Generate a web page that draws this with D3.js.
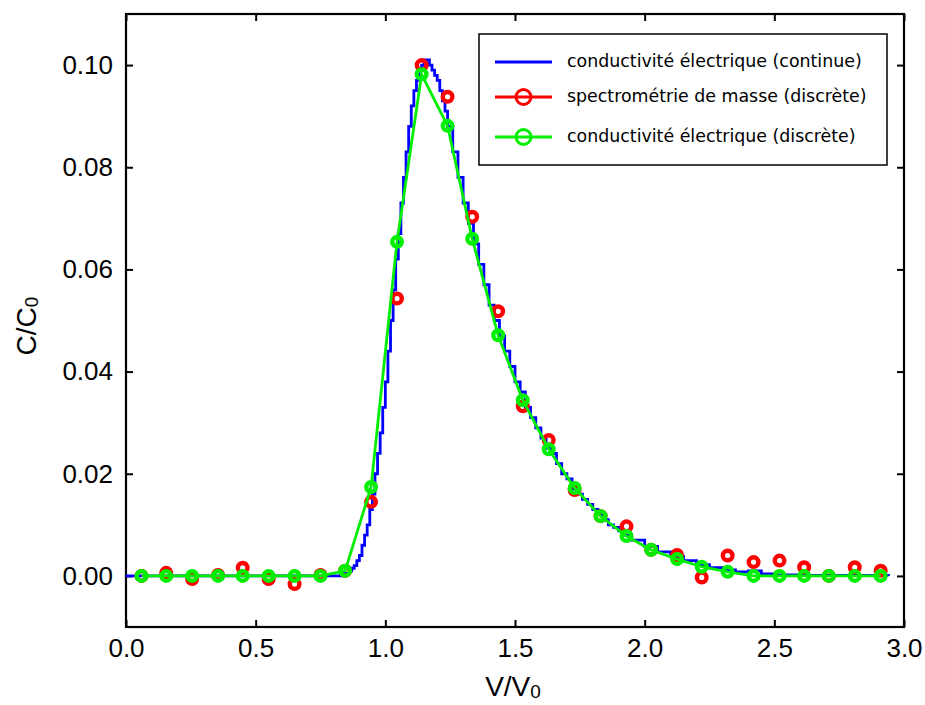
<!DOCTYPE html>
<html><head><meta charset="utf-8">
<script src="https://cdn.jsdelivr.net/npm/d3@7"></script>
<style>body{margin:0;background:#fff}svg{display:block}</style>
</head><body>
<svg id="chart" width="925" height="705"></svg>
<script>
// Discrete sample positions (V/V0)
const discreteV = [0.06,0.155,0.255,0.355,0.45,0.55,0.65,0.75,0.845,0.945,1.045,1.14,1.24,1.335,1.435,1.53,1.63,1.73,1.83,1.93,2.025,2.125,2.22,2.32,2.42,2.52,2.615,2.71,2.81,2.91];
// Mass spectrometry (discrete)
const massC = [0.0,0.0006,-0.0006,0.0002,0.0016,-0.0006,-0.0016,0.0002,0.001,0.0145,0.0543,0.1000,0.0938,0.0703,0.0518,0.0332,0.0266,0.0168,0.0117,0.0097,0.0051,0.0041,-0.0003,0.0040,0.0027,0.0030,0.0017,0.0,0.0017,0.0010];
// Electrical conductivity (discrete)
const condC = [0,0,0,0,0,0,0,0,0.001,0.0174,0.0654,0.0982,0.0881,0.0660,0.0471,0.0344,0.0248,0.0172,0.0117,0.0078,0.0051,0.0033,0.0018,0.0008,0,0,0,0,0,0];
// Electrical conductivity (continuous)
const contV = [0.00,0.80,0.84,0.86,0.87,0.88,0.89,0.90,0.91,0.92,0.93,0.94,0.95,0.96,0.97,0.98,0.99,1.00,1.01,1.02,1.03,1.04,1.05,1.06,1.07,1.08,1.09,1.10,1.11,1.12,1.13,1.14,1.15,1.16,1.17,1.18,1.19,1.20,1.21,1.22,1.23,1.24,1.26,1.28,1.30,1.32,1.34,1.36,1.38,1.40,1.42,1.44,1.46,1.48,1.50,1.52,1.54,1.56,1.58,1.60,1.62,1.64,1.66,1.68,1.70,1.72,1.74,1.76,1.78,1.80,1.82,1.84,1.86,1.88,1.90,1.92,1.95,2.00,2.05,2.10,2.15,2.20,2.25,2.30,2.35,2.40,2.45,2.50,2.60,2.94];
const contC = [0,0,0.0005,0.001,0.0015,0.002,0.003,0.004,0.006,0.008,0.010,0.013,0.016,0.020,0.024,0.028,0.033,0.038,0.044,0.050,0.056,0.062,0.067,0.073,0.078,0.083,0.088,0.092,0.095,0.097,0.099,0.100,0.101,0.101,0.100,0.099,0.098,0.097,0.095,0.093,0.091,0.088,0.083,0.078,0.073,0.069,0.065,0.061,0.057,0.053,0.050,0.047,0.044,0.041,0.038,0.036,0.033,0.031,0.029,0.027,0.025,0.024,0.022,0.020,0.019,0.017,0.016,0.015,0.014,0.013,0.012,0.011,0.010,0.0095,0.0088,0.0080,0.0070,0.0058,0.0047,0.0038,0.0030,0.0022,0.0016,0.0012,0.0008,0.0010,0.0004,0.0002,0.0001,0];
const xTicks = [0,0.5,1.0,1.5,2.0,2.5,3.0];
const yTicks = [0,0.02,0.04,0.06,0.08,0.10];
const legendLabels = ["conductivité électrique (continue)","spectrométrie de masse (discrète)","conductivité électrique (discrète)"];
const colors = ["#0000ff","#ff0000","#00ee00"];

const svg = d3.select("#chart");
const L=126,R=904,T=14,B=627;
const x = d3.scaleLinear().domain([0,3]).range([L,R]);
const y = d3.scaleLinear().domain([-0.01,0.11]).range([B,T]);
const font = "'Liberation Sans', Arial, sans-serif";

// axes with inward ticks
const gB = svg.append("g").attr("transform",`translate(0,${B})`)
  .call(d3.axisBottom(x).tickValues(xTicks).tickSizeInner(-7).tickSizeOuter(0).tickPadding(12).tickFormat(d3.format(".1f")));
const gL = svg.append("g").attr("transform",`translate(${L},0)`)
  .call(d3.axisLeft(y).tickValues(yTicks).tickSizeInner(-7).tickSizeOuter(0).tickPadding(13).tickFormat(d3.format(".2f")));
const gT = svg.append("g").attr("transform",`translate(0,${T})`)
  .call(d3.axisTop(x).tickValues(xTicks).tickSizeInner(-7).tickSizeOuter(0).tickFormat(""));
const gR = svg.append("g").attr("transform",`translate(${R},0)`)
  .call(d3.axisRight(y).tickValues(yTicks).tickSizeInner(-7).tickSizeOuter(0).tickFormat(""));
[gB,gL,gT,gR].forEach(g=>{
  g.select(".domain").remove();
  g.selectAll(".tick line").attr("stroke","#000").attr("stroke-width",2);
  g.selectAll(".tick text").attr("font-family",font).attr("font-size",26).attr("fill","#000");
});
svg.append("rect").attr("x",L).attr("y",T).attr("width",R-L).attr("height",B-T)
  .attr("fill","none").attr("stroke","#000").attr("stroke-width",2.2);

// axis titles
const xt = svg.append("text").attr("x",513).attr("y",696).attr("text-anchor","middle")
  .attr("font-family",font).attr("font-size",28);
xt.append("tspan").text("V/V");
xt.append("tspan").attr("font-size",19).attr("dy",2).text("0");
const yt = svg.append("text").attr("transform",`translate(36,326) rotate(-90)`).attr("text-anchor","middle")
  .attr("font-family",font).attr("font-size",28);
yt.append("tspan").text("C/C");
yt.append("tspan").attr("font-size",19).attr("dy",2).text("0");

// continuous line
const cont = contV.map((v,i)=>[v,contC[i]]);
svg.append("path").datum(cont).attr("fill","none").attr("stroke",colors[0]).attr("stroke-width",2.8)
  .attr("d",d3.line().x(d=>x(d[0])).y(d=>y(d[1])).curve(d3.curveStepAfter));

// mass spec markers
svg.append("g").selectAll("circle").data(discreteV.map((v,i)=>[v,massC[i]])).join("circle")
  .attr("cx",d=>x(d[0])).attr("cy",d=>y(d[1])).attr("r",4.8)
  .attr("fill","none").attr("stroke",colors[1]).attr("stroke-width",4.4);

// conductivity discrete
const cd = discreteV.map((v,i)=>[v,condC[i]]);
svg.append("path").datum(cd).attr("fill","none").attr("stroke",colors[2]).attr("stroke-width",2.8)
  .attr("d",d3.line().x(d=>x(d[0])).y(d=>y(d[1])));
svg.append("g").selectAll("circle").data(cd).join("circle")
  .attr("cx",d=>x(d[0])).attr("cy",d=>y(d[1])).attr("r",4.8)
  .attr("fill","none").attr("stroke",colors[2]).attr("stroke-width",4.4);

// legend
const lg = svg.append("g");
lg.append("rect").attr("x",479).attr("y",34).attr("width",408).attr("height",131)
  .attr("fill","#fff").attr("stroke","#000").attr("stroke-width",1.5);
const rowY=[62,97,137];
legendLabels.forEach((t,i)=>{
  lg.append("line").attr("x1",495).attr("x2",552).attr("y1",rowY[i]).attr("y2",rowY[i])
    .attr("stroke",colors[i]).attr("stroke-width",3);
  if(i>0) lg.append("circle").attr("cx",523.5).attr("cy",rowY[i]).attr("r",7.5)
    .attr("fill","none").attr("stroke",colors[i]).attr("stroke-width",3);
  lg.append("text").attr("x",567).attr("y",rowY[i]+5).attr("font-family","'DejaVu Sans', sans-serif")
    .attr("font-size",17.4).text(t);
});
</script>
</body></html>
